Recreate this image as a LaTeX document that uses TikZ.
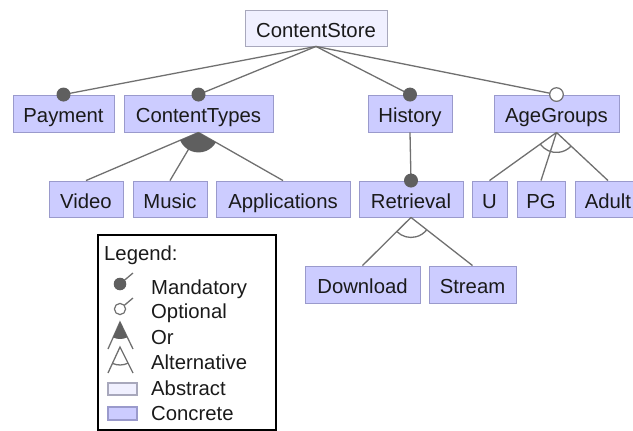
\documentclass[tikz,border=0pt]{standalone}
\usepackage{fontspec}
\setmainfont{Liberation Sans}
\usetikzlibrary{calc}
\definecolor{conc}{HTML}{CCCCFF}
\definecolor{concb}{HTML}{9A9ACC}
\definecolor{absf}{HTML}{F0F0FF}
\definecolor{absb}{HTML}{A8A8BC}
\definecolor{edge}{HTML}{707070}
\definecolor{dot}{HTML}{5F5F5F}
\definecolor{txt}{HTML}{1A1A1A}
\newcommand\orsector[4]{%
  \fill[dot] let \p1=($(#2)-(#1)$), \p2=($(#3)-(#1)$),
    \n1={atan2(\y1,\x1)}, \n2={atan2(\y2,\x2)} in
    (#1) -- ++(\n1:#4) arc[start angle=\n1, end angle=\n2, radius=#4] -- cycle;}
\newcommand\altarc[4]{%
  \draw[link] let \p1=($(#2)-(#1)$), \p2=($(#3)-(#1)$),
    \n1={atan2(\y1,\x1)}, \n2={atan2(\y2,\x2)} in
    ($(#1)+(\n1:#4)$) arc[start angle=\n1, end angle=\n2, radius=#4];}
\begin{document}
\begin{tikzpicture}[x=1pt,y=-1pt,
  font=\fontsize{20.3}{24}\selectfont,
  feat/.style={draw, inner sep=0, text height=18.4, text depth=0, minimum height=36, text=txt, line width=0.9},
  concrete/.style={feat, fill=conc, draw=concb},
  abstract/.style={feat, fill=absf, draw=absb},
  link/.style={draw=edge, line width=1.3},
  ltext/.style={anchor=west, inner sep=0, text height=14.6, text depth=4.2, text=txt},
  optdot/.style={fill=white, draw=edge, line width=1.2}]
\useasboundingbox (0,0) rectangle (633,431);
\clip (0,0) rectangle (633,431);
% features
\node[abstract, minimum width=142] (cs) at (316,28) {ContentStore};
\node[concrete, minimum width=101, minimum height=37] (pay) at (63.5,113.5) {Payment};
\node[concrete, minimum width=149, minimum height=37] (ct) at (198.5,113.5) {ContentTypes};
\node[concrete, minimum width=84, minimum height=37] (hist) at (410,113.5) {History};
\node[concrete, minimum width=125, minimum height=37] (ag) at (556.5,113.5) {AgeGroups};
\node[concrete, minimum width=74] (video) at (86,199) {Video};
\node[concrete, minimum width=74] (music) at (170,199) {Music};
\node[concrete, minimum width=134] (apps) at (283,199) {Applications};
\node[concrete, minimum width=104] (ret) at (411,199) {Retrieval};
\node[concrete, minimum width=35] (u) at (489.5,199) {U};
\node[concrete, minimum width=48] (pg) at (541,199) {PG};
\node[concrete, minimum width=66] (adult) at (608,199) {Adult};
\node[concrete, minimum width=115, minimum height=37] (dl) at (362.5,284.5) {Download};
\node[concrete, minimum width=87, minimum height=37] (st) at (472.5,284.5) {Stream};
% connectors
\draw[link] (cs.south) -- (pay.north);
\draw[link] (cs.south) -- (ct.north);
\draw[link] (cs.south) -- (hist.north);
\draw[link] (cs.south) -- (ag.north);
\draw[link] (ct.south) -- (video.north);
\draw[link] (ct.south) -- (music.north);
\draw[link] (ct.south) -- (apps.north);
\draw[link] (hist.south) -- (ret.north);
\draw[link] (ag.south) -- (u.north);
\draw[link] (ag.south) -- (pg.north);
\draw[link] (ag.south) -- (adult.north);
\draw[link] (ret.south) -- (dl.north);
\draw[link] (ret.south) -- (st.north);
\orsector{ct.south}{video.north}{apps.north}{20pt}
\altarc{ag.south}{u.north}{adult.north}{20pt}
\altarc{ret.south}{dl.north}{st.north}{20pt}
\fill[dot] (pay.north) circle[radius=7];
\fill[dot] (ct.north) circle[radius=7];
\fill[dot] (hist.north) circle[radius=7];
\fill[dot] (ret.north) circle[radius=7];
\draw[optdot] (ag.north) circle[radius=6.8];
% legend
\node[draw=black, line width=1.1, minimum width=178, minimum height=195, inner sep=0] (legend) at (187,332.5) {};
\node[ltext] (lgt) at (104,255) {Legend:};
\node[ltext] (lgm) at (151,289) {Mandatory};
\node[ltext] (lgo) at (151,313) {Optional};
\node[ltext] (lgr) at (151,339) {Or};
\node[ltext] (lga) at (151,364) {Alternative};
\node[ltext] (lgb) at (151,390) {Abstract};
\node[ltext] (lgc) at (151,415) {Concrete};
\coordinate (m1) at (120,284); \coordinate (m2) at (133,273);
\draw[link] (m1) -- (m2);
\fill[dot] (m1) circle[radius=6.3];
\coordinate (o1) at (120,309); \coordinate (o2) at (133,298);
\draw[link] (o1) -- (o2);
\draw[optdot] (o1) circle[radius=5.6];
\coordinate (r0) at (120,322); \coordinate (rL) at (108,349); \coordinate (rR) at (133,349);
\draw[link] (rL) -- (r0) -- (rR);
\orsector{r0}{rL}{rR}{17pt}
\coordinate (a0) at (120,347); \coordinate (aL) at (108,373); \coordinate (aR) at (133,373);
\draw[link] (aL) -- (a0) -- (aR);
\altarc{a0}{aL}{aR}{18pt}
\node[abstract, minimum width=29, minimum height=12, text height=0, text depth=0, line width=1.1] (iabs) at (122.5,389) {};
\node[concrete, minimum width=29, minimum height=13, text height=0, text depth=0, line width=1.1] (icon) at (122.5,413.5) {};
\end{tikzpicture}
\end{document}
